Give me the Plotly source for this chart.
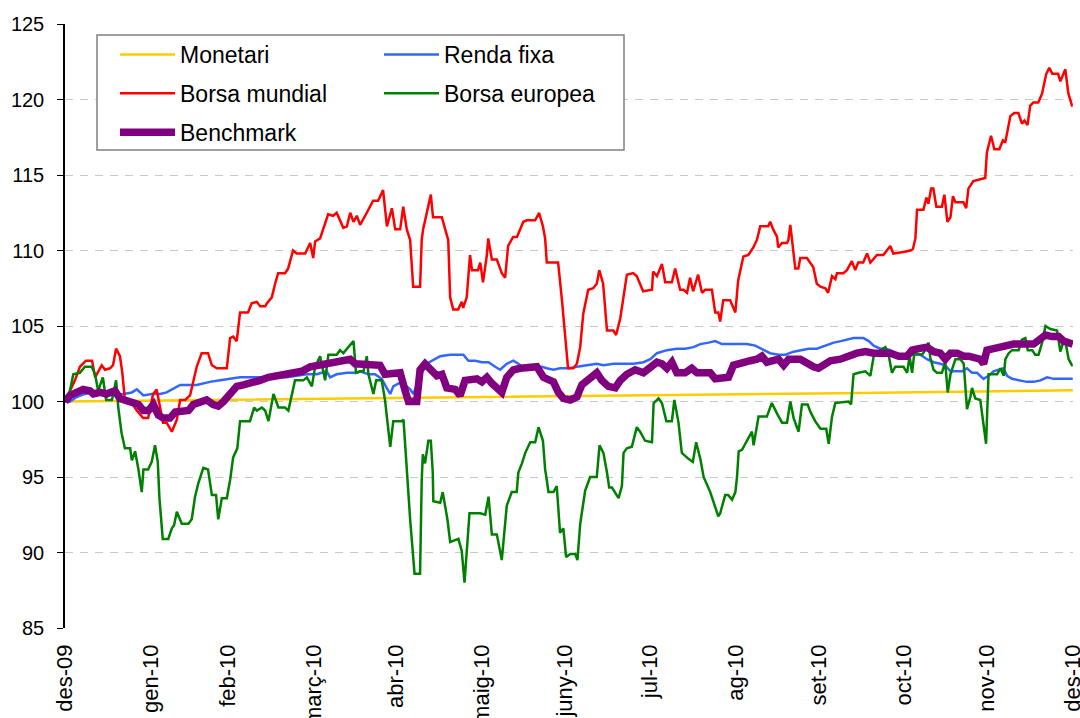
import pandas as pd
import plotly.graph_objects as go

# ---------------- data (day offsets from 31/12/2009, index values) ----------------
BASE = pd.Timestamp("2009-12-31")

tick_dates = ["2009-12-31", "2010-01-31", "2010-02-28", "2010-03-31", "2010-04-30",
              "2010-05-31", "2010-06-30", "2010-07-31", "2010-08-31", "2010-09-30",
              "2010-10-31", "2010-11-30", "2010-12-31"]
tick_labels = ["des-09", "gen-10", "feb-10", "març-10", "abr-10", "maig-10", "juny-10",
               "jul-10", "ag-10", "set-10", "oct-10", "nov-10", "des-10"]

monetari_days = [0, 48.9, 106.9, 194.4, 280.8, 365]
monetari_vals = [100.0, 100.1, 100.2, 100.35, 100.55, 100.75]

renda_days = [0, 1.8, 4.2, 7.2, 10.3, 13.9, 17.5, 21.1, 24.2, 26,
              28.4, 31.4, 34.4, 36.8, 39.9, 41.7, 47.7, 50.1, 52.5, 56.2,
              59.8, 63.4, 70.7, 73.1, 76.7, 80.3, 83.9, 87.6, 91.2, 94.8,
              96, 98.4, 102.1, 105.7, 106.9, 109.9, 112.3, 114.7, 116.5, 117.8,
              118.9, 120.8, 122.6, 125, 126.2, 128.6, 131, 132.9, 135.9, 139.5,
              144.3, 146.1, 148.6, 151, 153.4, 155.8, 157.6, 160, 162.4, 164.2,
              166.1, 169.7, 172.7, 174.5, 176.9, 179.3, 182.4, 185.4, 189, 192.6,
              195, 198.7, 202.3, 205.9, 209.5, 212, 214.4, 218, 221.6, 224.6,
              227.6, 230.1, 233.1, 235.5, 237.9, 240.9, 247, 250, 253, 255.4,
              258.4, 260.9, 263.9, 266.3, 269.3, 272.3, 275.4, 278.4, 281, 283.3,
              285.6, 289.2, 291.1, 292.9, 295.3, 297.1, 298.9, 300.7, 304.9, 309.8,
              312.2, 314.6, 317, 318.8, 320.7, 324.9, 326.7, 328.5, 330.3, 332.7,
              334.5, 336.3, 339.9, 341.2, 343, 346, 348.4, 350.8, 353.3, 355.7,
              358.1, 365]
renda_vals = [100.0, 100.0, 100.3, 100.5, 100.6, 100.5, 100.4, 100.5, 100.6, 100.8,
              100.4, 100.5, 100.5, 100.6, 100.9, 101.1, 101.1, 101.2, 101.3, 101.4,
              101.5, 101.6, 101.6, 101.5, 101.6, 101.6, 101.7, 101.8, 101.8, 102.0,
              101.6, 101.8, 101.9, 101.9, 102.0, 101.8, 101.8, 101.5, 100.9, 100.5,
              101.0, 101.2, 101.2, 100.8, 100.5, 101.7, 102.5, 102.7, 103.0, 103.1,
              103.1, 102.7, 102.7, 102.6, 102.6, 102.3, 102.1, 102.5, 102.7, 102.5,
              102.2, 102.3, 102.3, 102.2, 102.1, 102.2, 102.2, 102.3, 102.4, 102.5,
              102.4, 102.5, 102.5, 102.5, 102.6, 102.8, 103.2, 103.4, 103.5, 103.5,
              103.6, 103.8, 103.9, 104.0, 103.8, 103.8, 103.8, 103.7, 103.4, 103.2,
              103.1, 103.1, 103.3, 103.4, 103.5, 103.5, 103.7, 103.9, 104.0, 104.1,
              104.2, 104.2, 104.0, 103.7, 103.5, 103.5, 103.4, 103.1, 103.1, 103.1,
              102.8, 102.6, 102.5, 102.4, 102.0, 102.0, 102.2, 101.9, 101.9, 101.5,
              101.7, 102.0, 102.2, 101.7, 101.5, 101.4, 101.3, 101.3, 101.4, 101.6,
              101.5, 101.5]

mundial_days = [0, 3.6, 5.4, 7.6, 9.8, 10.9, 13.3, 14.5, 16.3, 17.4,
                18.5, 19.9, 20.7, 21.7, 24.2, 26, 28.3, 30.1, 31.9, 33.2,
                35.5, 36.8, 38.7, 40.5, 41.7, 43.5, 45.3, 47.7, 49.5, 51.8,
                53.2, 55, 58.6, 59.8, 60.9, 62.2, 63.4, 66.3, 67.6, 69.5,
                70.7, 72.5, 73.1, 74.9, 76.1, 77.2, 79.7, 80.8, 82.6, 83.9,
                87, 88.8, 89.9, 90.6, 92.4, 95.3, 97.1, 98.4, 100.8, 102.1,
                103.3, 104.5, 105.7, 106.9, 109.3, 111.6, 113.4, 115.2, 116.6, 118.4,
                119.6, 121.4, 122.5, 123.8, 125, 126.1, 128.6, 129.2, 129.7, 131,
                132.5, 133.3, 136.5, 137.7, 138.8, 139.5, 140.6, 142.4, 143.7, 144.2,
                145.5, 146.7, 147.4, 149.6, 150.4, 151.4, 152.8, 153.3, 154.6, 156.4,
                158.2, 159.4, 160.5, 162.3, 163.7, 166, 167.3, 170.3, 171.7, 173.1,
                173.9, 174.5, 178.6, 180, 182.2, 184.1, 185.4, 186.6, 187.7, 189.5,
                191.3, 192.6, 193.5, 194.9, 196.3, 198.6, 199.6, 201.1, 203.5, 205.8,
                207.1, 209.4, 212.6, 213, 214.4, 216.2, 217.4, 219.8, 221, 222.8,
                224, 225.3, 226.4, 227.5, 229.3, 230.7, 231.9, 234.3, 235.5, 236.6,
                237.3, 238.4, 240.9, 242.8, 243.8, 245.7, 247.5, 249.3, 250.6, 251.8,
                254.7, 255.4, 256.5, 257.9, 258.3, 259.7, 261.5, 262, 262.7, 264.5,
                265.6, 266.3, 268.7, 271, 272.3, 273.6, 275.4, 276.4, 277.8, 279,
                279.6, 281.9, 283.2, 285, 286.2, 287.3, 289.1, 290.5, 291.7, 294.1,
                296.4, 298.9, 300, 303.6, 306.2, 307.1, 308, 308.6, 310.9, 312,
                312.7, 313.7, 314.5, 315.6, 317.6, 318.5, 319.6, 320.7, 321.6, 322.5,
                325.4, 326.4, 327.2, 329, 331.5, 333.3, 333.9, 335.4, 336.6, 338.4,
                339.7, 340.6, 342.4, 343.8, 345.3, 346.6, 347.5, 348.6, 349.6, 350.7,
                352.5, 353.9, 355.4, 356.5, 357.6, 359.7, 360.5, 362.3, 363.4, 364.7,
                365]
mundial_vals = [100.0, 101.4, 102.3, 102.7, 102.7, 101.6, 102.4, 102.1, 102.2, 102.4,
                103.5, 103.0, 102.0, 100.1, 99.9, 99.4, 98.9, 98.9, 100.5, 100.8,
                98.6, 98.6, 98.0, 98.8, 100.1, 100.1, 100.4, 102.3, 103.2, 103.2,
                102.4, 102.2, 102.2, 104.2, 104.3, 104.0, 105.9, 105.9, 106.5, 106.6,
                106.3, 106.3, 106.5, 106.9, 107.8, 108.5, 108.5, 108.8, 110.0, 109.8,
                109.8, 110.5, 109.5, 110.6, 110.8, 112.4, 112.3, 112.5, 111.5, 111.6,
                112.5, 111.9, 112.3, 111.7, 112.5, 113.3, 113.3, 114.0, 111.6, 112.8,
                111.4, 111.4, 112.9, 111.4, 110.7, 107.6, 107.6, 110.7, 111.4, 112.5,
                113.7, 112.2, 112.2, 111.4, 110.7, 106.9, 106.1, 106.1, 106.6, 106.2,
                106.9, 109.7, 108.7, 108.7, 109.2, 107.9, 109.7, 110.8, 109.4, 109.4,
                108.5, 108.2, 110.3, 110.9, 110.9, 111.9, 112.0, 112.0, 112.5, 111.6,
                110.8, 109.2, 109.2, 106.7, 102.2, 102.2, 102.5, 103.6, 105.8, 107.4,
                107.5, 107.8, 108.7, 107.8, 104.7, 104.7, 104.4, 105.5, 108.4, 108.5,
                108.3, 107.3, 107.4, 108.6, 108.3, 109.1, 107.9, 107.9, 108.8, 107.4,
                107.4, 107.2, 108.2, 107.3, 108.4, 107.2, 107.4, 107.4, 105.9, 105.9,
                105.3, 106.7, 106.7, 105.9, 108.0, 109.6, 109.7, 110.2, 110.7, 111.6,
                111.6, 111.9, 111.4, 110.9, 110.2, 110.5, 110.5, 110.7, 111.7, 108.8,
                108.8, 109.5, 109.5, 108.9, 107.8, 107.6, 107.5, 107.2, 108.3, 108.1,
                108.5, 108.5, 108.7, 109.3, 108.7, 109.2, 109.2, 109.8, 109.2, 109.7,
                109.7, 110.3, 109.8, 109.9, 110.0, 110.1, 110.8, 112.7, 112.7, 113.5,
                113.1, 114.1, 114.1, 112.9, 112.9, 113.7, 111.9, 112.2, 113.6, 113.2,
                113.2, 112.8, 114.1, 114.6, 114.7, 114.8, 116.5, 117.6, 116.7, 116.7,
                117.3, 117.2, 118.9, 119.1, 119.1, 118.4, 118.6, 118.3, 119.6, 119.8,
                119.8, 120.4, 121.7, 122.1, 121.7, 121.7, 121.2, 122.0, 120.4, 119.6,
                119.6]

europea_days = [0, 1.1, 3.0, 5.4, 7.2, 9.7, 10.9, 12, 13.7, 14.9,
                17, 18.5, 19.3, 20.5, 21.7, 23.6, 24.2, 25.4, 26.6, 27.8,
                28.4, 30.1, 31.4, 32.6, 33.6, 34.2, 35.4, 37.4, 38.7, 39.5,
                40.5, 42.3, 44.7, 45.9, 47.1, 48.3, 50.1, 51.8, 53.2, 54.7,
                55.5, 56.8, 58.6, 59.8, 60.9, 62.4, 63.4, 67, 68.5, 69.5,
                71.3, 72.5, 73.7, 75.5, 77.3, 79.7, 80.9, 82.1, 83.3, 86.3,
                87.6, 89.4, 90.6, 92.4, 94.2, 95.4, 98.4, 99.6, 100.8, 102.6,
                104.5, 105.4, 106.9, 108.1, 109.3, 109.9, 111.7, 112.7, 114.7, 115.9,
                116.6, 117.8, 118.9, 122, 122.6, 123.8, 125, 126.6, 128.6, 129.2,
                129.6, 130.4, 131.6, 132.5, 133.2, 133.4, 135.9, 136.8, 138.5, 139.5,
                142.5, 143.7, 144.7, 146.5, 150.4, 152.2, 153.4, 154.6, 156.4, 158.2,
                160, 161.8, 163.6, 164.2, 165.5, 166.7, 168.5, 170.3, 171.5, 173.1,
                173.9, 174.5, 175.1, 176.9, 178.1, 179.3, 180.5, 181.5, 183, 184.8,
                185.6, 186.6, 188.4, 190.2, 192.6, 193.6, 195, 196.3, 197.1, 198.1,
                200.5, 201.7, 202.3, 203.5, 205.3, 207.1, 208.3, 210.1, 212.6, 213.2,
                215, 216.2, 217.8, 219.8, 220.7, 222.2, 223.4, 225.8, 227.4, 228.6,
                230.1, 231.3, 233.7, 236.6, 237.3, 239.1, 240.2, 241.6, 242.8, 243.4,
                244, 245.2, 247, 248.8, 249.4, 251.2, 254.2, 256, 257.9, 259.7,
                261.5, 262.7, 263.9, 265.7, 266.9, 269, 270, 271.7, 273.6, 275.7,
                276.6, 277.8, 279, 282.6, 283.8, 284.7, 285.6, 287.4, 289.9, 290.5,
                291.7, 292.9, 295.3, 297.1, 298.3, 299.5, 300.7, 303.7, 305, 305.9,
                306.8, 307.6, 310.4, 311.6, 312.8, 313.4, 314.6, 315.8, 317.6, 318.8,
                319.7, 320.7, 322.5, 324.3, 325.5, 326.7, 327.9, 328.5, 329.7, 331.5,
                332.7, 333.6, 334.5, 337.6, 338.8, 340, 340.6, 341.8, 343, 345.4,
                346.6, 347.8, 348.7, 350.3, 351.4, 352.6, 353.9, 355.1, 356.9, 359.3,
                360.5, 361.5, 362.3, 363.5, 364.7, 365]
europea_vals = [100.0, 100.1, 101.8, 101.9, 102.3, 102.3, 101.8, 100.7, 101.6, 100.1,
                100.1, 101.4, 99.6, 97.9, 96.9, 96.9, 96.1, 96.7, 95.5, 94.0,
                95.5, 95.5, 96.0, 97.1, 96.0, 93.6, 90.9, 90.9, 91.6, 91.8,
                92.7, 91.9, 91.9, 92.2, 93.7, 94.6, 95.6, 95.5, 93.8, 93.8,
                92.2, 93.6, 93.6, 94.8, 96.3, 96.9, 98.7, 98.7, 99.6, 99.4,
                99.6, 99.4, 98.7, 100.5, 99.6, 99.6, 99.4, 100.3, 101.4, 101.4,
                101.6, 101.0, 102.3, 103.0, 101.4, 103.1, 103.1, 103.4, 103.2, 103.6,
                104.0, 101.9, 102.0, 102.0, 103.0, 101.8, 100.5, 101.4, 101.4, 100.1,
                98.8, 97.0, 98.7, 98.7, 98.8, 95.3, 92.2, 88.6, 88.6, 94.8,
                96.5, 95.9, 97.4, 97.4, 95.3, 93.4, 93.3, 94.0, 92.2, 90.7,
                90.9, 90.1, 88.0, 92.6, 92.6, 92.5, 93.7, 91.2, 91.2, 89.5,
                93.1, 94.0, 94.0, 95.3, 95.9, 96.6, 97.3, 97.3, 98.3, 97.4,
                95.5, 94.8, 94.0, 94.0, 94.4, 91.3, 91.6, 89.7, 89.9, 89.9,
                89.5, 91.9, 94.1, 95.0, 95.0, 97.1, 96.6, 95.3, 94.3, 94.3,
                93.6, 94.4, 96.6, 96.9, 97.0, 98.3, 98.0, 97.4, 97.3, 99.9,
                100.2, 99.9, 98.7, 98.7, 100.1, 98.6, 96.6, 96.2, 96.0, 97.3,
                96.2, 95.0, 94.0, 92.4, 92.6, 93.8, 93.8, 93.5, 94.0, 95.0,
                96.7, 96.8, 97.4, 98.0, 97.1, 99.0, 99.0, 99.9, 99.2, 98.6,
                98.6, 100.0, 98.9, 98.0, 99.8, 99.8, 99.3, 98.7, 98.2, 98.2,
                97.2, 99.0, 99.9, 100.0, 100.0, 99.8, 101.8, 101.9, 102.0, 101.9,
                101.7, 103.0, 103.4, 103.6, 103.1, 101.9, 102.3, 102.3, 101.9, 103.0,
                101.9, 103.2, 103.1, 103.4, 103.9, 102.9, 102.1, 101.9, 101.9, 102.6,
                100.6, 101.8, 102.8, 102.8, 102.5, 99.5, 100.3, 100.9, 100.2, 100.1,
                98.2, 97.2, 101.8, 101.8, 102.2, 101.7, 102.8, 103.2, 103.4, 103.4,
                104.1, 104.2, 103.4, 103.4, 103.1, 103.1, 103.9, 105.0, 104.8, 104.7,
                103.3, 103.9, 104.0, 102.8, 102.4, 102.4]

bench_days = [0, 1.8, 4.2, 6.6, 9.1, 10.3, 12.7, 15.1, 16.3, 18.1,
              19.9, 22.4, 24.2, 26.6, 28.4, 30.2, 32, 33.8, 35.6, 38,
              39.9, 42.3, 44.7, 46.5, 48.9, 51.3, 53.7, 55.5, 57.4, 59.2,
              62.2, 64.6, 67.6, 70.7, 73.7, 76.7, 79.7, 82.7, 85.8, 88.8,
              91.8, 94.8, 97.8, 100.8, 103.3, 105.1, 106.9, 109.3, 111.7, 114.1,
              115.9, 117.8, 119, 121.4, 123.2, 124.4, 127.4, 128.6, 130.4, 132.2,
              134.7, 136.5, 138.3, 141.3, 143.1, 144.9, 147.4, 149.2, 151, 152.8,
              154.6, 157, 158.2, 160, 162.4, 164.9, 168.5, 170.9, 173.3, 175.1,
              176.9, 178.7, 180.5, 183, 185.4, 187.2, 189, 190.8, 192.6, 194.4,
              196.8, 199.3, 201.1, 203.5, 206.5, 209.5, 212, 214.4, 216.2, 218,
              219.8, 221.6, 224.6, 227, 228.9, 233.7, 235.5, 237.9, 240.3, 242.1,
              245.2, 248.2, 250.6, 252.4, 254.2, 256.6, 258.4, 260.3, 262.1, 266.3,
              268.7, 271.1, 272.9, 275.4, 277.2, 280.8, 283.2, 286.8, 289.9, 292.9,
              299, 302, 305, 306.8, 309.2, 312.2, 314.6, 317, 318.8, 320.7,
              323.1, 325.5, 327.3, 329.1, 331.5, 332.7, 333.9, 336.3, 338.8, 341.2,
              343.6, 350.8, 353.3, 355.1, 357.5, 359.9, 361.7, 364.1, 365]
bench_vals = [100.0, 100.4, 100.6, 100.8, 100.7, 100.5, 100.6, 100.5, 100.6, 100.7,
              100.2, 100.0, 99.9, 99.8, 99.4, 99.4, 99.8, 99.1, 98.9, 98.9,
              99.3, 99.4, 99.4, 99.8, 100.0, 100.1, 99.8, 99.7, 100.0, 100.4,
              101.0, 101.1, 101.2, 101.4, 101.6, 101.7, 101.8, 102.0, 102.0, 102.3,
              102.4, 102.5, 102.5, 102.6, 102.8, 102.5, 102.5, 102.5, 102.4, 102.4,
              101.8, 101.8, 101.9, 101.9, 100.7, 100.0, 100.0, 102.1, 102.5, 102.1,
              101.7, 101.8, 100.9, 100.8, 100.4, 101.4, 101.4, 101.5, 101.3, 101.6,
              101.2, 100.8, 100.6, 101.6, 102.1, 102.2, 102.3, 102.3, 101.6, 101.4,
              101.3, 100.6, 100.2, 100.1, 100.3, 101.1, 101.4, 101.6, 101.9, 101.4,
              101.0, 100.9, 101.4, 101.8, 102.1, 101.9, 102.3, 102.6, 102.5, 102.2,
              102.6, 101.9, 101.9, 102.2, 101.9, 101.9, 101.5, 101.6, 101.6, 102.4,
              102.6, 102.7, 102.8, 103.0, 102.6, 102.7, 102.8, 102.4, 102.8, 102.8,
              102.5, 102.3, 102.2, 102.5, 102.7, 102.8, 103.0, 103.2, 103.3, 103.2,
              103.2, 103.0, 103.0, 103.4, 103.5, 103.6, 103.3, 103.2, 102.8, 103.2,
              103.2, 103.0, 103.0, 102.9, 102.8, 102.5, 103.4, 103.5, 103.6, 103.7,
              103.8, 103.8, 104.2, 104.4, 104.3, 104.3, 104.0, 103.8, 103.8]


def to_dates(days):
    return BASE + pd.to_timedelta(days, unit="D")


FONT = "Liberation Sans, Arial, sans-serif"

series = [
    ("Monetari", monetari_days, monetari_vals, "#FFCC00", 2.5, "legend"),
    ("Renda fixa", renda_days, renda_vals, "#3366FF", 2.5, "legend2"),
    ("Borsa mundial", mundial_days, mundial_vals, "#FF0000", 2.5, "legend"),
    ("Borsa europea", europea_days, europea_vals, "#008000", 2.5, "legend2"),
    ("Benchmark", bench_days, bench_vals, "#800080", 7.5, "legend"),
]

fig = go.Figure()
for name, d, v, col, w, leg in series:
    fig.add_trace(go.Scatter(
        x=to_dates(d), y=v, name=name, mode="lines",
        line=dict(color=col, width=w), legend=leg, legendgroup=name,
    ))

x_range = [BASE, BASE + pd.Timedelta(days=365, hours=2)]
tickvals = pd.to_datetime(tick_dates)

# plot area pixels: x 65..1073, y 24..628
def px_x(p):
    return (p - 65) / 1008.0


def px_y(p):
    return (628 - p) / 604.0


fig.update_layout(
    width=1080, height=718,
    margin=dict(l=65, r=7, t=24, b=90, autoexpand=False),
    paper_bgcolor="white", plot_bgcolor="white",
    font=dict(family=FONT, color="black", size=20),
    showlegend=True,
    xaxis=dict(
        type="date", range=x_range, tickmode="array", tickvals=tickvals, ticktext=tick_labels,
        tickangle=-90, showline=False, ticks="", showgrid=False, zeroline=False,
        ticklabelstandoff=11, automargin=False, ticklabeloverflow="allow",
        tickfont=dict(family=FONT, size=22, color="black"),
    ),
    xaxis2=dict(
        type="date", range=x_range, overlaying="x", anchor="free", position=0.375,
        tickmode="array", tickvals=tickvals, showticklabels=False, ticks="outside",
        ticklen=6, tickcolor="black", tickwidth=1, showline=True, linecolor="black",
        linewidth=1.5, showgrid=False, zeroline=False,
    ),
    yaxis=dict(
        range=[85, 125], tick0=85, dtick=5, showline=True, linecolor="black", linewidth=1.5,
        ticks="outside", ticklen=6, tickcolor="black", showgrid=True, gridcolor="#c8c8c8",
        griddash="8px,7px", gridwidth=1, zeroline=False, ticklabelstandoff=9,
        automargin=False,
        tickfont=dict(family=FONT, size=20, color="black"),
    ),
    legend=dict(
        x=px_x(115), y=px_y(33), xanchor="left", yanchor="top",
        bgcolor="rgba(0,0,0,0)", borderwidth=0, itemwidth=55, tracegroupgap=6,
        font=dict(family=FONT, size=23, color="black"), itemclick=False,
    ),
    legend2=dict(
        x=px_x(379), y=px_y(33), xanchor="left", yanchor="top",
        bgcolor="rgba(0,0,0,0)", borderwidth=0, itemwidth=55, tracegroupgap=6,
        font=dict(family=FONT, size=23, color="black"), itemclick=False,
    ),
    shapes=[dict(
        type="rect", xref="paper", yref="paper",
        x0=px_x(97), x1=px_x(624), y0=px_y(150), y1=px_y(35),
        fillcolor="white", line=dict(color="#808080", width=1.5), layer="above",
    )],
)

fig.write_html("out.html", config={"displayModeBar": False},
               post_script="document.body.style.margin='0';")
